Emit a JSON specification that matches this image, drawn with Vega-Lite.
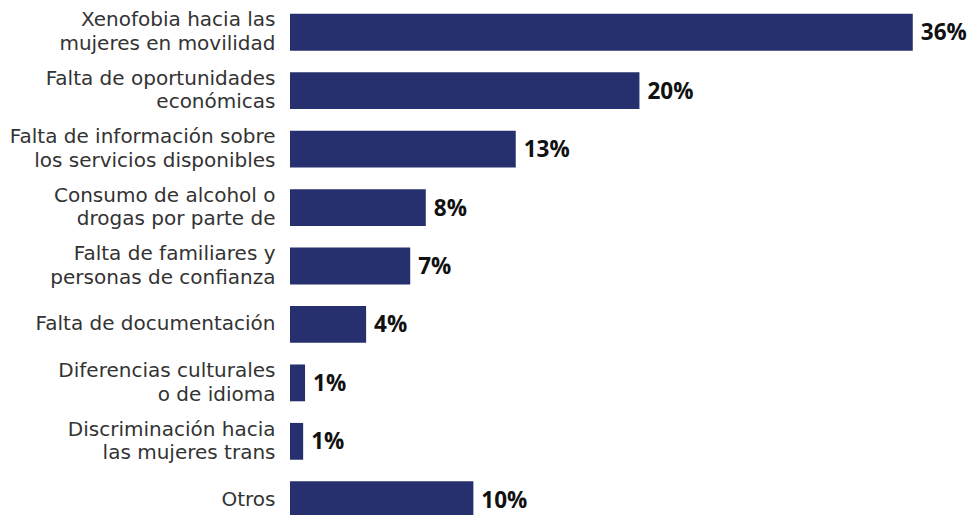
{
  "$schema": "https://vega.github.io/schema/vega-lite/v6.json",
  "autosize": {"type": "none"},
  "width": 684,
  "height": 526,
  "padding": {"left": 290, "top": 3, "right": 0, "bottom": 0},
  "background": "white",
  "config": {"view": {"stroke": null}, "font": "Open Sans"},
  "data": {
    "values": [
      {"cat": "Xenofobia hacia las|mujeres en movilidad", "value": 36, "label": "36%"},
      {"cat": "Falta de oportunidades|económicas", "value": 20.2, "label": "20%"},
      {"cat": "Falta de información sobre|los servicios disponibles", "value": 13.05, "label": "13%"},
      {"cat": "Consumo de alcohol o|drogas por parte de", "value": 7.85, "label": "8%"},
      {"cat": "Falta de familiares y|personas de confianza", "value": 6.95, "label": "7%"},
      {"cat": "Falta de documentación", "value": 4.4, "label": "4%"},
      {"cat": "Diferencias culturales|o de idioma", "value": 0.87, "label": "1%"},
      {"cat": "Discriminación hacia|las mujeres trans", "value": 0.76, "label": "1%"},
      {"cat": "Otros", "value": 10.6, "label": "10%"}
    ]
  },
  "encoding": {
    "y": {
      "field": "cat",
      "type": "nominal",
      "sort": null,
      "scale": {"paddingInner": 0.37, "paddingOuter": 0.185},
      "axis": {
        "title": null,
        "domain": false,
        "ticks": false,
        "labelExpr": "split(datum.label, '|')",
        "labelFontSize": 20,
        "labelColor": "#333333",
        "labelPadding": 15,
        "labelLineHeight": 23.5,
        "labelLimit": 300,
        "labelFont": "DejaVu Sans",
        "labelFontWeight": "normal",
        "labelOffset": {"condition": {"test": "indexof(datum.value, '|') >= 0", "value": -11.75}, "value": 0}
      }
    },
    "x": {
      "field": "value",
      "type": "quantitative",
      "scale": {"domain": [0, 39.54], "nice": false},
      "axis": null
    }
  },
  "layer": [
    {"mark": {"type": "bar", "color": "#27306e"}},
    {
      "mark": {"type": "text", "align": "left", "baseline": "middle", "dx": 8, "dy": 1, "fontSize": 22.5, "fontWeight": "bold", "color": "#111111", "font": "Open Sans"},
      "encoding": {"text": {"field": "label", "type": "nominal"}}
    }
  ]
}
